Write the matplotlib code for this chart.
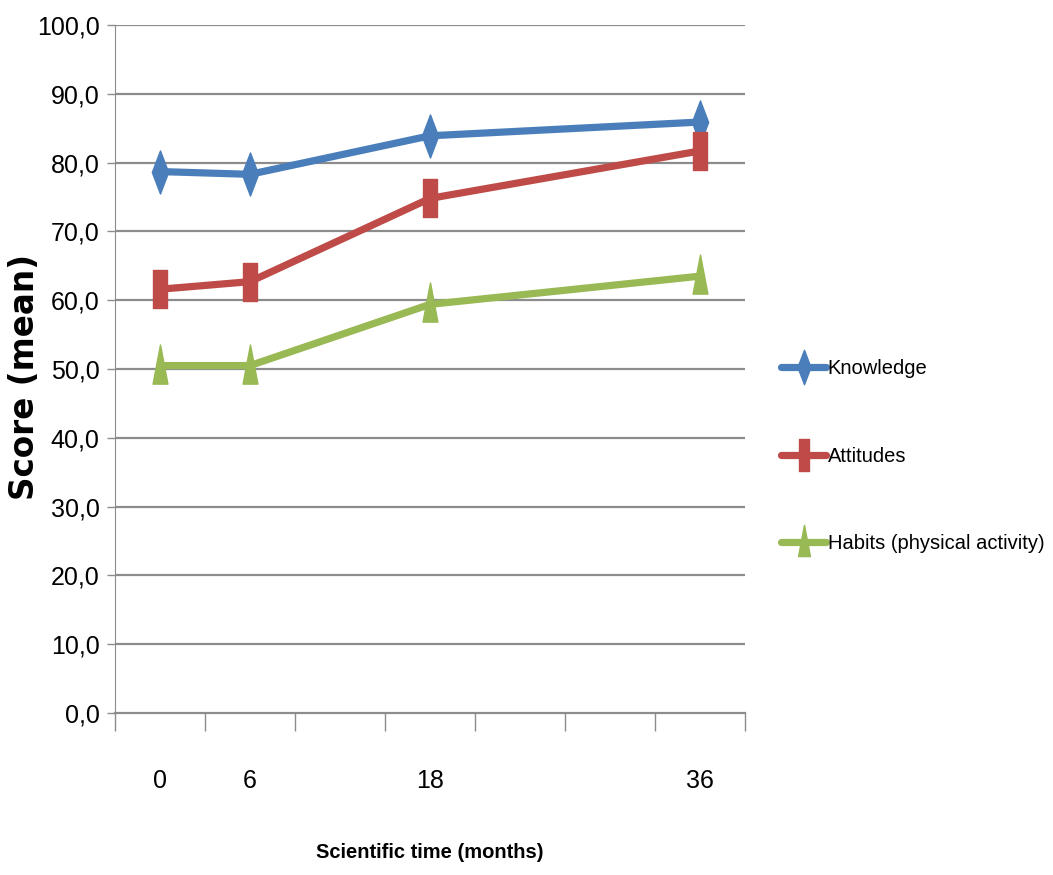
import numpy as np
import matplotlib.pyplot as plt
from matplotlib import font_manager
from matplotlib.path import Path

# scores at each follow-up
months = [0, 6, 18, 36]
knowledge = [78.7, 78.3, 83.9, 85.9]
attitudes = [61.6, 62.7, 74.8, 81.7]
habits = [50.5, 50.5, 59.4, 63.5]

series_names = ["Knowledge", "Attitudes", "Habits (physical activity)"]
y_ticks = np.arange(0, 101, 10)

# pick a narrow face if one is installed
installed = {f.name for f in font_manager.fontManager.ttflist}
narrow = [n for n in ['Liberation Sans Narrow', 'DejaVu Sans Condensed',
                      'Liberation Sans'] if n in installed]
plt.rcParams['font.family'] = narrow + ['DejaVu Sans']

# tall, narrow marker shapes
diamond = Path([(0, -1), (0.38, 0), (0, 1), (-0.38, 0), (0, -1)],
               [Path.MOVETO, Path.LINETO, Path.LINETO, Path.LINETO, Path.CLOSEPOLY])
square = Path([(-0.34, -1), (0.34, -1), (0.34, 1), (-0.34, 1), (-0.34, -1)],
              [Path.MOVETO, Path.LINETO, Path.LINETO, Path.LINETO, Path.CLOSEPOLY])
triangle = Path([(0, 1.1), (0.38, -0.9), (-0.38, -0.9), (0, 1.1)],
                [Path.MOVETO, Path.LINETO, Path.LINETO, Path.CLOSEPOLY])

fig = plt.figure(figsize=(10.53, 8.75), dpi=100)
ax = fig.add_axes([0.1092, 0.1851, 0.5983, 0.7863])

grid_color = '#8c8c8c'
for y in y_ticks[1:]:
    ax.axhline(y, color=grid_color, lw=1.6, zorder=1)

line_kw = dict(lw=5.2, solid_capstyle='round', solid_joinstyle='round', zorder=3)
ax.plot(months, knowledge, color='#4a7ebb', marker=diamond, ms=31,
        label=series_names[0], **line_kw)
ax.plot(months, attitudes, color='#be4b48', marker=square, ms=28,
        label=series_names[1], **line_kw)
ax.plot(months, habits, color='#98b954', marker=triangle, ms=31,
        label=series_names[2], **line_kw)

ax.set_xlim(-3, 39)
ax.set_ylim(0, 100)
ax.set_yticks(y_ticks)
ax.set_yticklabels([f"{v:.1f}".replace('.', ',') for v in y_ticks], fontsize=18)
ax.set_xticks(months)
ax.set_xticklabels([str(m) for m in months], fontsize=18)
ax.set_xticks(np.arange(-3, 40, 6), minor=True)
ax.tick_params(axis='x', which='major', length=0, pad=40)
ax.tick_params(axis='x', which='minor', length=13, color=grid_color, width=1)
ax.tick_params(axis='y', length=6, color=grid_color, width=1, pad=5)

for side in ['top', 'right']:
    ax.spines[side].set_visible(False)
ax.spines['left'].set_color(grid_color)
ax.spines['bottom'].set_color(grid_color)
ax.spines['bottom'].set_linewidth(1.6)

fig.text(25 / 1053, 1 - 377 / 875, "Score (mean)", rotation=90, fontsize=23.5,
         fontweight='bold', family='DejaVu Sans', ha='center', va='center')
fig.text(430 / 1053, 1 - 852 / 875, "Scientific time (months)", fontsize=14.5,
         fontweight='bold', ha='center', va='center')

leg = ax.legend(loc='center left', bbox_to_anchor=(1.045, 0.3735), frameon=False,
                fontsize=14.5, labelspacing=3.4, handlelength=2.2, handletextpad=0.1,
                borderaxespad=0, markerscale=0.8)

fig.savefig("out.png", dpi=100)
